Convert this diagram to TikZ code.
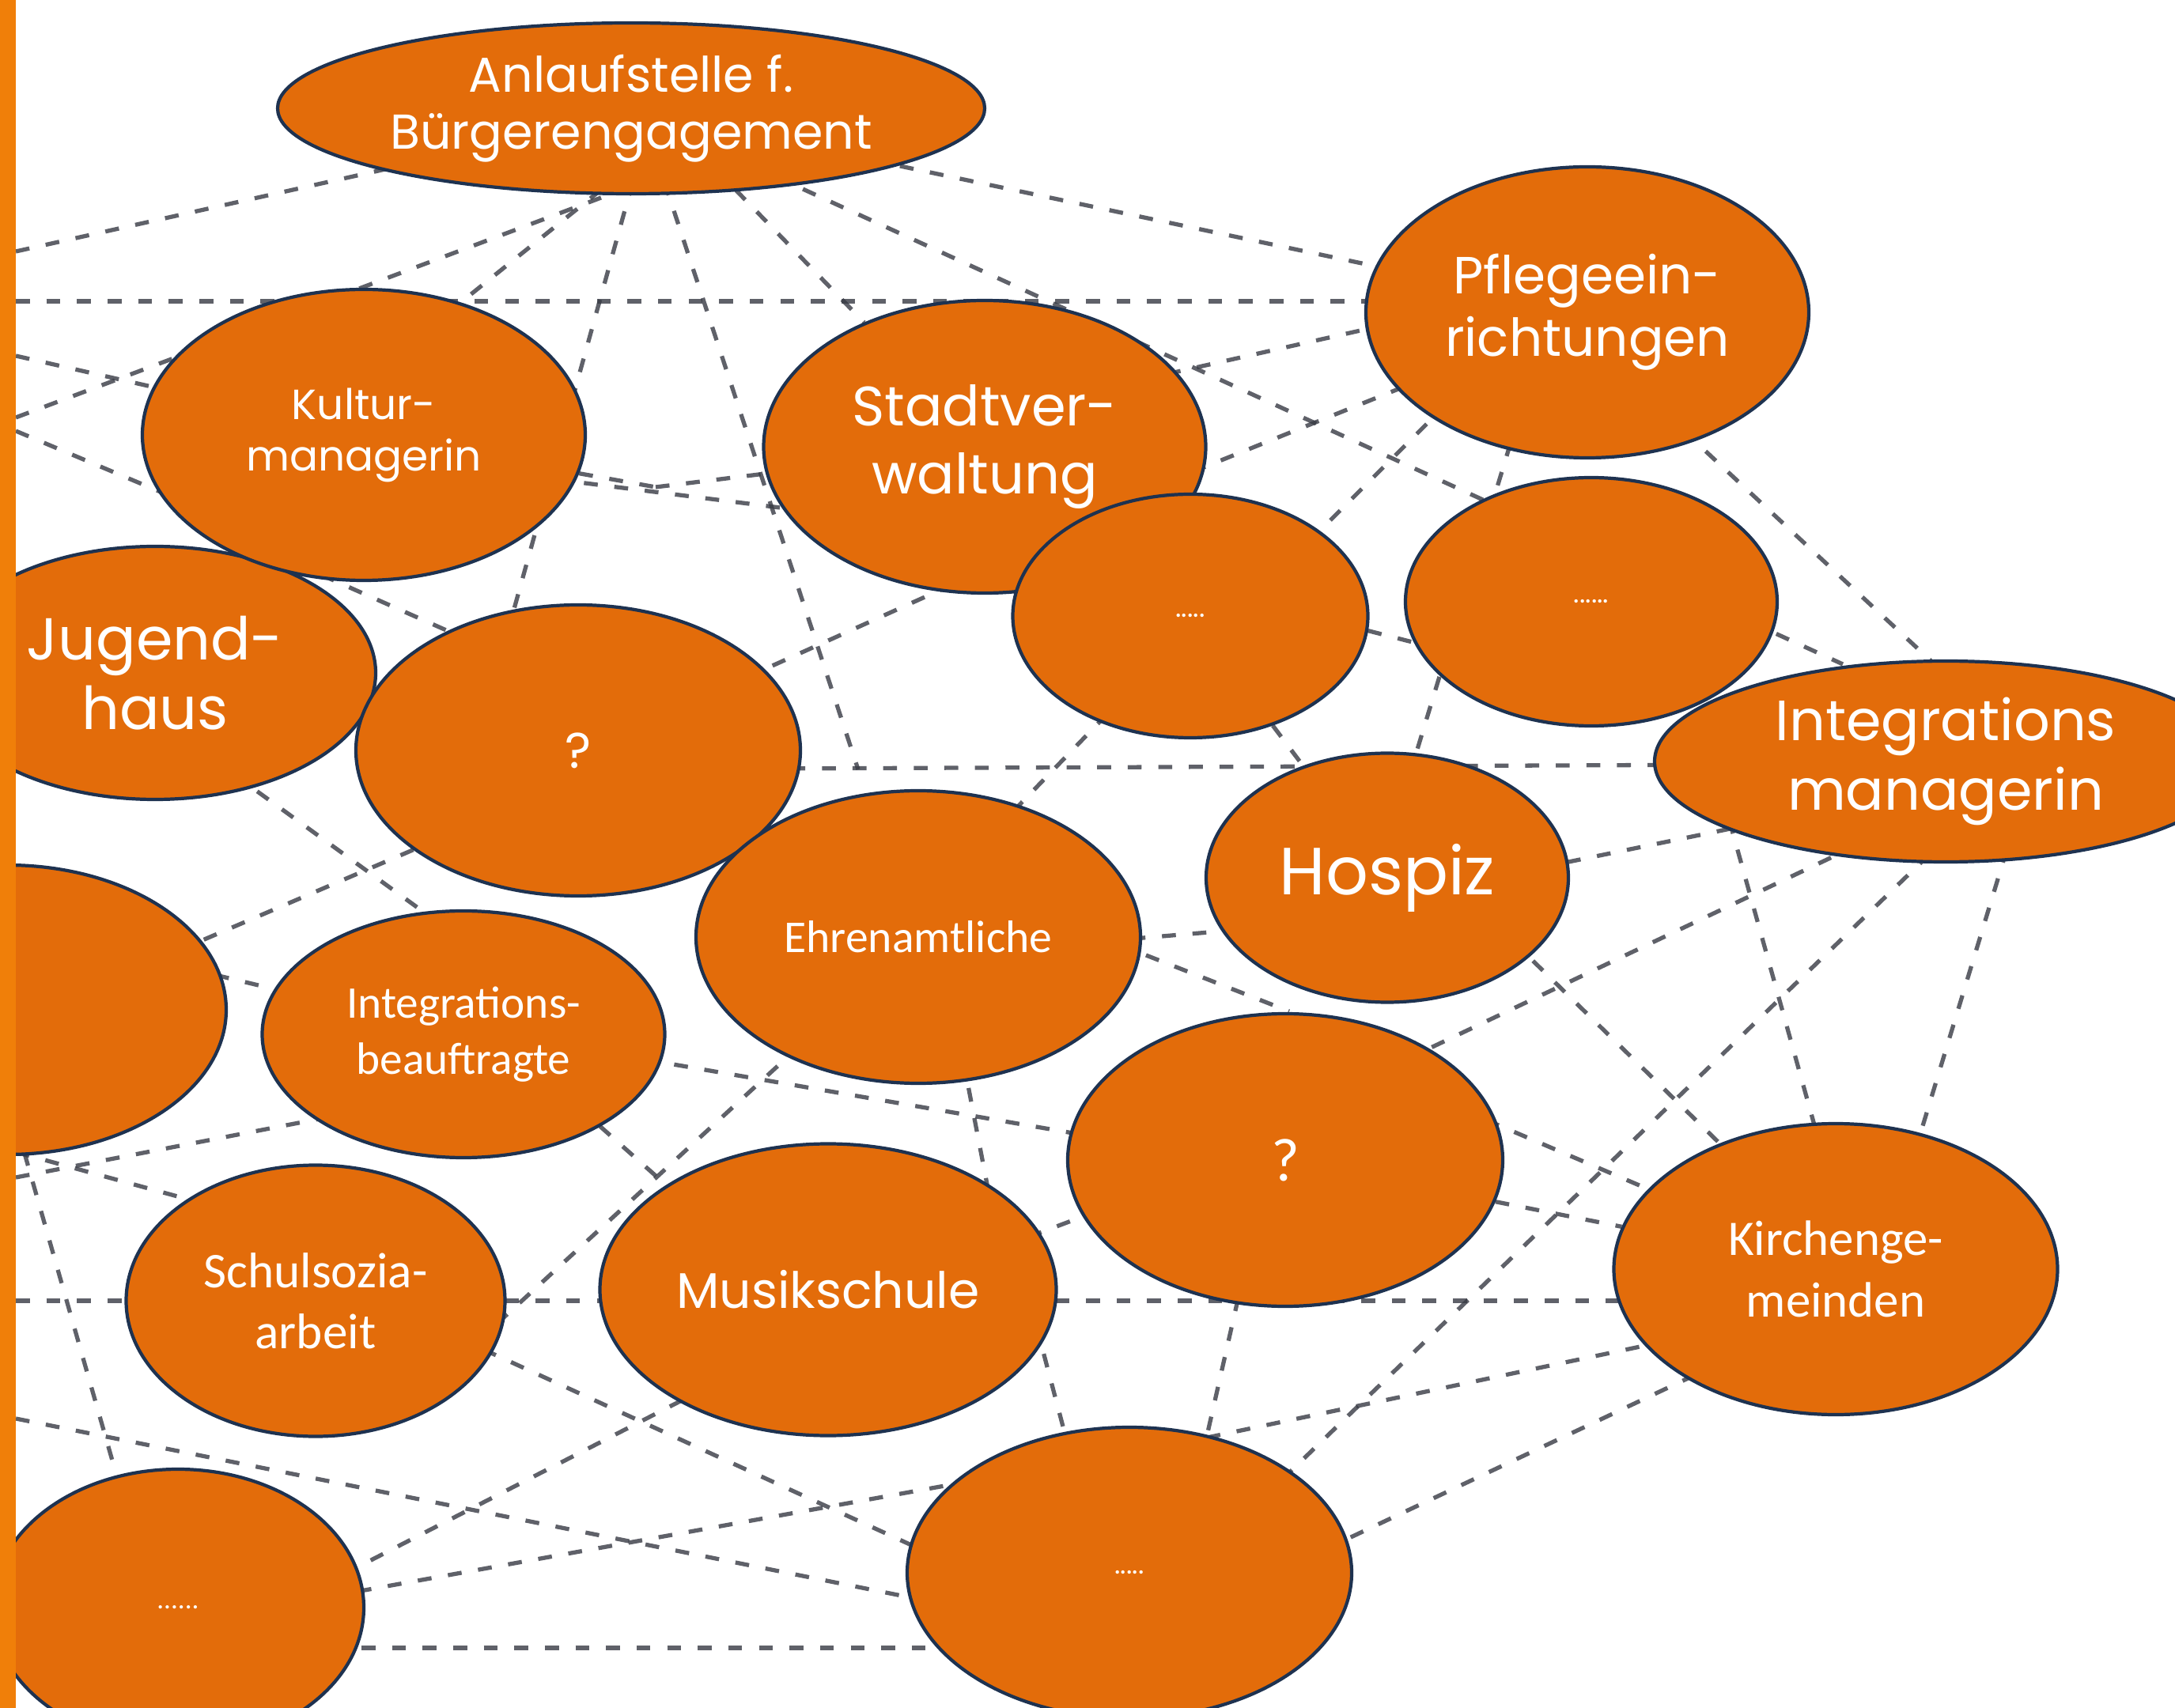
\documentclass[tikz,border=0pt]{standalone}
\usepackage{fontspec}
\usetikzlibrary{shapes.geometric,backgrounds}
\newfontfamily\gothic{Poppins}
\newfontfamily\calib{Carlito}
\definecolor{knot}{RGB}{227,108,10}
\definecolor{rand}{RGB}{30,50,80}
\definecolor{balken}{RGB}{240,127,9}
\definecolor{netzgrau}{RGB}{55,58,68}

\begin{document}
\begin{tikzpicture}[knoten/.style={ellipse, fill=knot, draw=rand, line width=1.2pt, inner sep=0pt, text=white, align=center},
  netz/.style={draw=netzgrau, line width=1.5pt, dash pattern=on 5pt off 6pt, opacity=0.8}]
\useasboundingbox (0,0) rectangle (27.5,-21.6);

\node[knoten, minimum width=8.94cm, minimum height=2.16cm, font={\gothic\fontsize{17.6}{20.5}\selectfont}] (anlauf) at (7.98,-1.37) {Anlaufstelle f.\\Bürgerengagement};
\node[knoten, minimum width=5.60cm, minimum height=3.68cm, font={\gothic\fontsize{18.8}{22.5}\selectfont}] (pflege) at (20.07,-3.95) {Pflegeein-\\richtungen};
\node[knoten, minimum width=5.59cm, minimum height=3.70cm, font={\gothic\fontsize{20}{24.5}\selectfont}] (stadt) at (12.45,-5.65) {Stadtver-\\waltung};
\node[knoten, minimum width=4.49cm, minimum height=3.08cm, font={\gothic\fontsize{10}{12}\selectfont}] (dotsA) at (15.05,-7.79) {.....};
\node[knoten, minimum width=4.70cm, minimum height=3.14cm, font={\gothic\fontsize{10}{12}\selectfont}] (dotsB) at (20.12,-7.61) {......};
\node[knoten, minimum width=7.36cm, minimum height=2.54cm, font={\gothic\fontsize{20.4}{25}\selectfont}] (intman) at (24.60,-9.63) {Integrations\\managerin};
\node[knoten, minimum width=5.58cm, minimum height=3.20cm, font={\gothic\fontsize{21.3}{25}\selectfont}] (jugend) at (1.96,-8.51) {Jugend-\\haus};
\node[knoten, minimum width=5.60cm, minimum height=3.68cm, font={\gothic\fontsize{15.2}{18.5}\selectfont}] (kultur) at (4.60,-5.50) {Kultur-\\managerin};
\node[knoten, minimum width=5.62cm, minimum height=3.68cm, font={\gothic\fontsize{18}{22}\selectfont}] (frageA) at (7.31,-9.49) {?};
\node[knoten, minimum width=5.62cm, minimum height=3.70cm, font={\calib\fontsize{16.4}{20}\selectfont}] (ehren) at (11.61,-11.85) {Ehrenamtliche};
\node[knoten, minimum width=4.58cm, minimum height=3.15cm, font={\gothic\fontsize{24}{28}\selectfont}] (hospiz) at (17.54,-11.10) {Hospiz};
\node[knoten, minimum width=5.54cm, minimum height=3.66cm] (leer) at (0.09,-12.77) {};
\node[knoten, minimum width=5.09cm, minimum height=3.12cm, font={\calib\fontsize{16.3}{20}\selectfont}] (intbeauf) at (5.86,-13.08) {Integrations-\\beauftragte};
\node[knoten, minimum width=5.50cm, minimum height=3.70cm, font={\calib\fontsize{22}{26}\selectfont}] (frageB) at (16.25,-14.67) {?};
\node[knoten, minimum width=4.79cm, minimum height=3.43cm, font={\calib\fontsize{18}{22}\selectfont}] (schul) at (3.99,-16.45) {Schulsozia-\\arbeit};
\node[knoten, minimum width=5.77cm, minimum height=3.69cm, font={\gothic\fontsize{18}{22}\selectfont}] (musik) at (10.47,-16.31) {Musikschule};
\node[knoten, minimum width=5.61cm, minimum height=3.68cm, font={\calib\fontsize{17.9}{22}\selectfont}] (kirche) at (23.21,-16.05) {Kirchenge-\\meinden};
\node[knoten, minimum width=4.70cm, minimum height=3.50cm, font={\calib\fontsize{10}{12}\selectfont}] (dotsC) at (2.25,-20.33) {......};
\node[knoten, minimum width=5.62cm, minimum height=3.68cm, font={\gothic\fontsize{10}{12}\selectfont}] (dotsD) at (14.28,-19.89) {.....};

\begin{pgfonlayer}{background}
\coordinate (w1) at (0.2,-3.18);
\coordinate (w2) at (0.2,-5.28);
\coordinate (w3) at (0.2,-3.81);
\coordinate (w4) at (0.2,-4.50);
\coordinate (w5) at (0.2,-5.45);
\coordinate (w6) at (0.2,-16.45);
\coordinate (w7) at (0.2,-17.94);
\coordinate (w8) at (0.2,-14.89);
\coordinate (w9) at (0.2,-14.57);
\coordinate (w10) at (0.2,-14.20);
\coordinate (a1) at (6.4,-1.80);
\coordinate (a2) at (7.6,-2.50);
\coordinate (a3) at (7.6,-2.40);
\coordinate (a4) at (8.0,-2.30);
\coordinate (a5) at (8.4,-2.30);
\coordinate (a6) at (11.0,-2.02);
\coordinate (a7) at (9.8,-2.23);
\coordinate (a8) at (9.3,-2.40);
\coordinate (k1) at (4.3,-5.05);
\coordinate (k2) at (4.0,-7.05);
\coordinate (k3) at (7.0,-6.06);
\coordinate (v1) at (8.29,-6.16);
\coordinate (j1) at (3.0,-6.80);
\coordinate (j2) at (2.0,-9.10);
\coordinate (f1) at (6.5,-7.70);
\coordinate (f2) at (6.5,-8.35);
\coordinate (f3) at (7.3,-9.73);
\coordinate (f4) at (7.3,-9.53);
\coordinate (f5) at (6.5,-10.20);
\coordinate (h1) at (10.85,-9.73);
\coordinate (s1) at (10.5,-6.50);
\coordinate (s2) at (14.0,-4.90);
\coordinate (s3) at (14.0,-6.40);
\coordinate (s4) at (12.47,-7.20);
\coordinate (p1) at (18.0,-3.81);
\coordinate (p2) at (18.5,-3.60);
\coordinate (p3) at (18.0,-4.00);
\coordinate (p4) at (18.5,-4.59);
\coordinate (p5) at (18.5,-4.90);
\coordinate (p6) at (19.1,-5.60);
\coordinate (p7) at (21.0,-5.18);
\coordinate (d1) at (16.0,-7.40);
\coordinate (d2) at (14.8,-8.20);
\coordinate (d3) at (15.05,-7.40);
\coordinate (r1) at (20.12,-8.70);
\coordinate (i1) at (23.3,-8.40);
\coordinate (i2) at (24.6,-9.66);
\coordinate (i3) at (24.61,-8.54);
\coordinate (i4) at (23.0,-10.25);
\coordinate (i5) at (21.76,-10.00);
\coordinate (i6) at (25.6,-10.00);
\coordinate (i7) at (24.4,-10.80);
\coordinate (i8) at (23.5,-10.68);
\coordinate (o1) at (17.7,-10.20);
\coordinate (o2) at (17.54,-11.37);
\coordinate (o3) at (18.0,-10.80);
\coordinate (o4) at (17.54,-11.60);
\coordinate (e1) at (12.0,-11.10);
\coordinate (e2) at (11.61,-12.10);
\coordinate (e3) at (11.61,-10.95);
\coordinate (e4) at (12.1,-13.00);
\coordinate (q1) at (16.3,-14.10);
\coordinate (q2) at (16.3,-13.10);
\coordinate (q3) at (16.0,-14.90);
\coordinate (q4) at (16.3,-12.79);
\coordinate (q5) at (16.3,-14.80);
\coordinate (q6) at (16.3,-14.40);
\coordinate (c1) at (23.10,-14.80);
\coordinate (c2) at (24.2,-14.60);
\coordinate (c3) at (22.5,-15.20);
\coordinate (c4) at (23.2,-16.45);
\coordinate (c5) at (21.5,-16.87);
\coordinate (c6) at (22.0,-17.12);
\coordinate (b1) at (6.0,-12.00);
\coordinate (b2) at (7.0,-13.20);
\coordinate (b3) at (5.85,-12.70);
\coordinate (b4) at (5.85,-13.80);
\coordinate (l1) at (0.09,-12.95);
\coordinate (l2) at (0.09,-11.70);
\coordinate (g1) at (6.0,-17.00);
\coordinate (g2) at (4.0,-16.10);
\coordinate (g3) at (3.96,-15.60);
\coordinate (m1) at (12.9,-16.00);
\coordinate (m2) at (12.6,-15.60);
\coordinate (m3) at (10.47,-16.60);
\coordinate (m4) at (9.0,-15.50);
\coordinate (m5) at (10.0,-17.00);
\coordinate (t1) at (3.0,-20.60);
\coordinate (t2) at (3.0,-20.40);
\coordinate (t3) at (2.25,-20.84);
\coordinate (t4) at (1.8,-19.80);
\coordinate (u1) at (15.6,-19.30);
\coordinate (u2) at (15.0,-19.30);
\coordinate (u3) at (13.8,-19.40);
\coordinate (u4) at (14.5,-18.34);
\coordinate (u5) at (14.28,-20.76);
\coordinate (u6) at (14.28,-20.80);
\coordinate (u7) at (12.0,-20.30);
\coordinate (u8) at (13.0,-18.60);
\coordinate (u9) at (14.28,-20.84);

\draw[netz] (w1) -- (a1);
\draw[netz] (w2) -- (a2);
\draw[netz] (w3) -- (p1);
\draw[netz] (a3) -- (k1);
\draw[netz] (a4) -- (f1);
\draw[netz] (a5) -- (h1);
\draw[netz] (a6) -- (p2);
\draw[netz] (a7) -- (i1);
\draw[netz] (a8) -- (stadt);
\draw[netz] (w4) -- (kultur);
\draw[netz] (w5) -- (k2);
\draw[netz] (kultur) -- (v1);
\draw[netz] (v1) -- (stadt);
\draw[netz] (k3) -- (s1);
\draw[netz] (j1) -- (f2);
\draw[netz] (j2) -- (b1);
\draw[netz] (s2) -- (p3);
\draw[netz] (s3) -- (p4);
\draw[netz] (d1) -- (p5);
\draw[netz] (f3) -- (i2);
\draw[netz] (f4) -- (s4);
\draw[netz] (e1) -- (d2);
\draw[netz] (p6) -- (o1);
\draw[netz] (p7) -- (i3);
\draw[netz] (o2) -- (i4);
\draw[netz] (i5) -- (c1);
\draw[netz] (i6) -- (c2);
\draw[netz] (i7) -- (u1);
\draw[netz] (i8) -- (q1);
\draw[netz] (o3) -- (c3);
\draw[netz] (q2) -- (kirche);
\draw[netz] (frageB) -- (kirche);
\draw[netz] (w6) -- (c4);
\draw[netz] (q3) -- (u2);
\draw[netz] (m1) -- (u3);
\draw[netz] (u4) -- (c5);
\draw[netz] (u5) -- (c6);
\draw[netz] (e2) -- (o4);
\draw[netz] (e3) -- (q4);
\draw[netz] (b2) -- (q5);
\draw[netz] (e4) -- (m2);
\draw[netz] (m3) -- (q6);
\draw[netz] (g1) -- (ehren);
\draw[netz] (b3) -- (m4);
\draw[netz] (g2) -- (u6);
\draw[netz] (m5) -- (t1);
\draw[netz] (w7) -- (u7);
\draw[netz] (t2) -- (u8);
\draw[netz] (t3) -- (u9);
\draw[netz] (l1) -- (f5);
\draw[netz] (l2) -- (intbeauf);
\draw[netz] (w8) -- (b4);
\draw[netz] (w9) -- (g3);
\draw[netz] (w10) -- (t4);
\draw[netz] (dotsA) -- (hospiz);
\draw[netz] (d3) -- (r1);
\end{pgfonlayer}

\fill[balken] (0,0) rectangle (0.2,-21.6);
\end{tikzpicture}
\end{document}
